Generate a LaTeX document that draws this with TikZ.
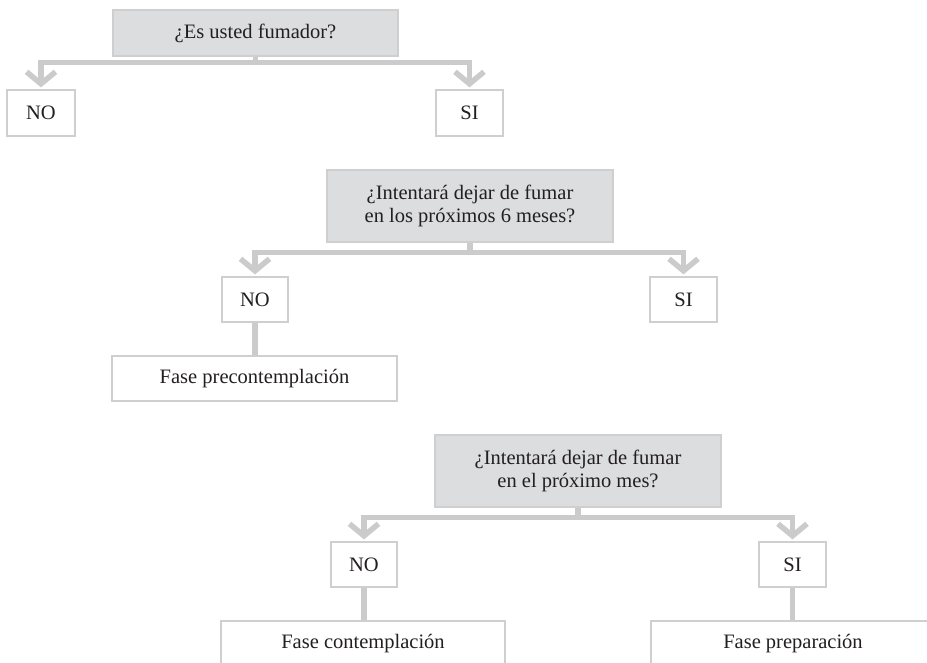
\documentclass[tikz,border=0pt]{standalone}
\usepackage{fontspec}
\setmainfont{Liberation Serif}
\usetikzlibrary{arrows.meta}
\definecolor{qfill}{HTML}{DCDDDE}
\definecolor{qline}{HTML}{CFCFCF}
\definecolor{connc}{HTML}{CBCBCB}
\definecolor{ink}{HTML}{231F20}
\begin{document}
\begin{tikzpicture}[x=1pt,y=-1pt,
  qbox/.style={draw=qline, fill=qfill, line width=1.2pt, minimum width=286pt,
    inner sep=0pt, align=center, font=\fontsize{20.5}{23.5}\selectfont, text=ink},
  abox/.style={draw=qline, fill=white, line width=1.2pt, minimum height=45pt,
    inner sep=0pt, font=\fontsize{20.5}{24}\selectfont, text=ink},
  link/.style={draw=connc, line width=5.5pt, line join=miter},
  arrowlink/.style={link, -{Straight Barb[length=12pt, width=29pt, line width=5.5pt]}, shorten >=2pt},
]
\useasboundingbox (0,0) rectangle (927,663);
\clip (0,0) rectangle (927,663);

% row 1
\node[qbox, minimum width=285pt, minimum height=46pt] (q1) at (255.5,33) {¿Es usted fumador?};
\node[abox, minimum width=68pt, minimum height=46pt] (no1) at (41,113) {NO};
\node[abox, minimum width=67pt, minimum height=46pt] (si1) at (469.5,113) {SI};

% row 2
\node[qbox, minimum height=72pt] (q2) at (470,206) {¿Intentará dejar de fumar\\en los próximos 6 meses?};
\node[abox, minimum width=66pt] (no2) at (255,299.5) {NO};
\node[abox, minimum width=67pt] (si2) at (683.5,299.5) {SI};
\node[abox, minimum width=285pt] (fp) at (254.5,378.5) {Fase precontemplación};

% row 3
\node[qbox, minimum height=72pt] (q3) at (578,471) {¿Intentará dejar de fumar\\en el próximo mes?};
\node[abox, minimum width=66pt] (no3) at (364,564.5) {NO};
\node[abox, minimum width=67pt] (si3) at (792.5,564.5) {SI};
\node[abox, minimum width=284pt] (fc) at (363,643.5) {Fase contemplación};
\node[abox, minimum width=284pt] (fpr) at (793,643.5) {Fase preparación};

% connectors
\draw[arrowlink] (q1.south) -- ++(0,6) -| (no1.north);
\draw[arrowlink] (q1.south) -- ++(0,6) -| (si1.north);
\draw[arrowlink] (q2.south) -- ++(0,10) -| (no2.north);
\draw[arrowlink] (q2.south) -- ++(0,10) -| (si2.north);
\draw[arrowlink] (q3.south) -- ++(0,10) -| (no3.north);
\draw[arrowlink] (q3.south) -- ++(0,10) -| (si3.north);
\draw[link] (no2.south) -- (no2.south |- fp.north);
\draw[link] (no3.south) -- (no3.south |- fc.north);
\draw[link] (si3.south) -- (si3.south |- fpr.north);
\end{tikzpicture}
\end{document}
